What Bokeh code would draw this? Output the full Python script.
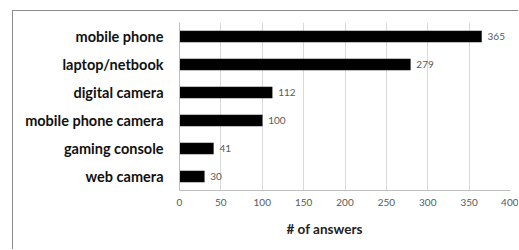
from bokeh.plotting import figure
from bokeh.models import ColumnDataSource, Range1d, FactorRange, LabelSet, FixedTicker, Title
from bokeh.core.properties import value
from bokeh.embed import file_html
from bokeh.resources import INLINE

devices = ["mobile phone", "laptop/netbook", "digital camera", "mobile phone camera", "gaming console", "web camera"]
answers = [365, 279, 112, 100, 41, 30]
x_ticks = [0, 50, 100, 150, 200, 250, 300, 350, 400]
x_title = "# of answers"

src = ColumnDataSource(dict(device=devices, n=answers, lbl=[str(v) for v in answers]))

p = figure(width=506, height=239, output_backend="svg", toolbar_location=None,
           y_range=FactorRange(factors=devices[::-1], range_padding=0),
           x_range=Range1d(0, 400),
           min_border_left=166, min_border_right=9, min_border_top=11, min_border_bottom=60)
p.margin = (10, 0, 0, 12)
p.styles = {"border-left": "1px solid #8c8c8c", "border-top": "1px solid #8c8c8c"}
p.outline_line_color = None
p.background_fill_color = "white"
p.border_fill_color = "white"

p.hbar(y="device", right="n", left=0, height=0.4, source=src, fill_color="black", line_color="#222222", line_width=0.5)

labels = LabelSet(x="n", y="device", text="lbl", source=src, x_offset=6, text_baseline="middle",
                  text_font=value("Lato"), text_font_size="10px", text_color="#595959")
p.add_layout(labels)

p.xgrid.grid_line_color = "#d9d9d9"
p.xgrid.ticker = FixedTicker(ticks=x_ticks)
p.ygrid.grid_line_color = None

p.xaxis.ticker = FixedTicker(ticks=x_ticks)
p.xaxis.axis_line_color = "#bfbfbf"
p.xaxis.major_tick_line_color = None
p.xaxis.minor_tick_line_color = None
p.xaxis.major_tick_out = 0
p.xaxis.major_tick_in = 0
p.xaxis.major_label_standoff = 8
p.xaxis.major_label_text_font = "Lato"
p.xaxis.major_label_text_font_size = "10px"
p.xaxis.major_label_text_line_height = 0.8
p.xaxis.major_label_text_color = "#595959"

title = Title(text=x_title, align="left", offset=107, standoff=20,
              text_font="Lato", text_font_style="bold", text_font_size="13.5px",
              text_line_height=0.9, text_color="#222222")
p.add_layout(title, "below")

p.yaxis.axis_line_color = "#bfbfbf"
p.yaxis.major_tick_line_color = None
p.yaxis.minor_tick_line_color = None
p.yaxis.major_label_standoff = 10
p.yaxis.major_label_text_font = "Lato"
p.yaxis.major_label_text_font_style = "bold"
p.yaxis.major_label_text_font_size = "14.5px"
p.yaxis.major_label_text_color = "#111111"

open("out.html", "w").write(file_html(p, INLINE))
